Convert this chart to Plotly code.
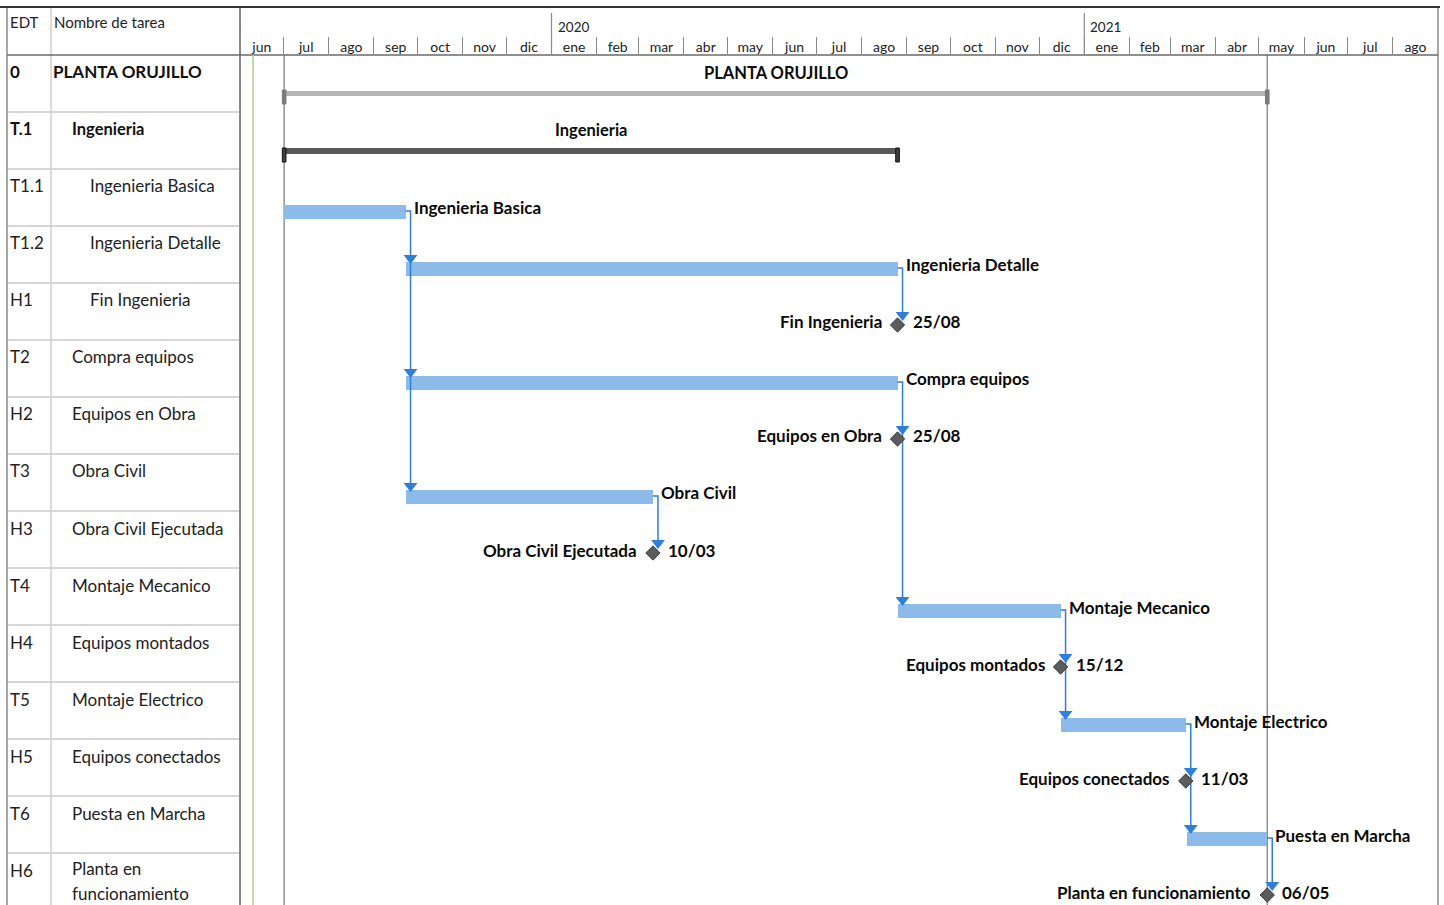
import plotly.graph_objects as go
import pandas as pd

# ---------------- data ----------------
edt = ["0", "T.1", "T1.1", "T1.2", "H1", "T2", "H2", "T3", "H3", "T4", "H4", "T5", "H5", "T6", "H6"]
names = ["PLANTA ORUJILLO", "Ingenieria", "Ingenieria Basica", "Ingenieria Detalle", "Fin Ingenieria",
         "Compra equipos", "Equipos en Obra", "Obra Civil", "Obra Civil Ejecutada", "Montaje Mecanico",
         "Equipos montados", "Montaje Electrico", "Equipos conectados", "Puesta en Marcha",
         "Planta en funcionamiento"]
levels = [0, 1, 2, 2, 2, 1, 1, 1, 1, 1, 1, 1, 1, 1, 1]
kinds = ["project", "summary", "task", "task", "milestone", "task", "milestone", "task", "milestone",
         "task", "milestone", "task", "milestone", "task", "milestone"]
starts = ["2019-07-01 08:00", "2019-07-01 08:00", "2019-07-01 08:00", "2019-09-23 08:00", "2020-08-25 17:00",
          "2019-09-23 08:00", "2020-08-25 17:00", "2019-09-23 08:00", "2020-03-10 17:00", "2020-08-26 08:00",
          "2020-12-15 17:00", "2020-12-16 08:00", "2021-03-11 17:00", "2021-03-12 08:00", "2021-05-06 17:00"]
finishes = ["2021-05-06 17:00", "2020-08-25 17:00", "2019-09-22 17:00", "2020-08-25 17:00", "2020-08-25 17:00",
            "2020-08-25 17:00", "2020-08-25 17:00", "2020-03-10 17:00", "2020-03-10 17:00", "2020-12-15 17:00",
            "2020-12-15 17:00", "2021-03-11 17:00", "2021-03-11 17:00", "2021-05-06 17:00", "2021-05-06 17:00"]
# predecessor -> successor links (row indices)
links = [(2, 3), (2, 5), (2, 7), (3, 4), (5, 6), (5, 9), (7, 8), (9, 10), (9, 11),
         (11, 12), (11, 13), (13, 14)]
status_date = "2019-06-10"
axis_start, axis_end = "2019-06-01", "2021-09-01"
month_abbr = ["ene", "feb", "mar", "abr", "may", "jun", "jul", "ago", "sep", "oct", "nov", "dic"]
year_marks = ["2020-01-01", "2021-01-01"]

# ---------------- layout constants ----------------
W, H = 1444, 905
TBL_L, COL2, TBL_R, CH_R = 7, 51, 240, 1438
TOP, HEAD_B = 7, 55
ROW_H = 57
FONT = "Lato"

n = len(names)
S = pd.to_datetime(starts)
F = pd.to_datetime(finishes)
ax0, ax1 = pd.Timestamp(axis_start), pd.Timestamp(axis_end)
day_px = (CH_R - TBL_R) / ((ax1 - ax0).days)
y_bottom = (H - HEAD_B) / ROW_H - 0.5


def yrow(i, px):
    """y data coordinate of a point px pixels below the top of row i"""
    return i - 0.5 + px / ROW_H


def py(p):
    """paper y of pixel row p"""
    return 1 - p / H


def px_x(p):
    return p / W


def shift_days(px):
    return pd.Timedelta(days=px / day_px)


fig = go.Figure()
shapes = []
ann = []

# ---------------- bars ----------------
task_idx = [i for i in range(n) if kinds[i] == "task"]
fig.add_trace(go.Bar(
    orientation="h",
    base=[S[i] for i in task_idx],
    x=[(F[i] - S[i]).total_seconds() * 1000 for i in task_idx],
    y=[yrow(i, 43) for i in task_idx],
    width=14 / ROW_H,
    marker=dict(color="#8CBBEA", line=dict(width=0)),
    hoverinfo="skip", showlegend=False))

# summary bars
for i in range(n):
    if kinds[i] == "project":
        col, hgt, yc, capc, capl = "#B5B5B5", 5, 38, "#7A7A7A", "#7A7A7A"
    elif kinds[i] == "summary":
        col, hgt, yc, capc, capl = "#595959", 6, 39, "#404040", "#111111"
    else:
        continue
    fig.add_trace(go.Bar(
        orientation="h", base=[S[i]], x=[(F[i] - S[i]).total_seconds() * 1000],
        y=[yrow(i, yc)], width=hgt / ROW_H,
        marker=dict(color=col, line=dict(width=0)), hoverinfo="skip", showlegend=False))
    for d in (S[i], F[i]):
        shapes.append(dict(type="rect", xref="x", yref="y", xsizemode="pixel", xanchor=d,
                           x0=-1.8, x1=1.8, y0=yrow(i, yc - 3), y1=yrow(i, yc + 11),
                           fillcolor=capc, line=dict(color=capl, width=1), layer="above"))

# ---------------- connectors ----------------
preds = {}
for p, s in links:
    preds.setdefault(p, []).append(s)
cx, cy, tx, ty = [], [], [], []
for p, succ in preds.items():
    xc = F[p] + shift_days(5)
    yp = yrow(p, 42)
    last = max(succ)
    cx += [F[p], xc, xc, None]
    cy += [yp, yp, yrow(last, 35), None]
    for s in succ:
        tx.append(xc)
        ty.append(yrow(s, 32))
fig.add_trace(go.Scatter(x=cx, y=cy, mode="lines", line=dict(color="#2F7ED8", width=1.5),
                         hoverinfo="skip", showlegend=False))
fig.add_trace(go.Scatter(x=tx, y=ty, mode="markers",
                         marker=dict(symbol="triangle-down", size=12, color="#2F7ED8"),
                         hoverinfo="skip", showlegend=False))

# ---------------- milestones ----------------
ms_idx = [i for i in range(n) if kinds[i] == "milestone"]
fig.add_trace(go.Scatter(x=[F[i] for i in ms_idx], y=[yrow(i, 42) for i in ms_idx], mode="markers",
                         marker=dict(symbol="diamond", size=11, color="#5C5C5C",
                                     line=dict(color="#3A3A3A", width=1)),
                         hoverinfo="skip", showlegend=False))

# ---------------- bar labels ----------------
bold = dict(family=FONT, size=17, color="#0A0A0A")
for i in range(n):
    if kinds[i] == "task":
        ann.append(dict(x=F[i], y=yrow(i, 39), xref="x", yref="y", text="<b>%s</b>" % names[i],
                        showarrow=False, xanchor="left", yanchor="middle", xshift=6, font=bold))
    elif kinds[i] == "milestone":
        ann.append(dict(x=F[i], y=yrow(i, 39), xref="x", yref="y", text="<b>%s</b>" % names[i],
                        showarrow=False, xanchor="right", yanchor="middle", xshift=-14, font=bold))
        ann.append(dict(x=F[i], y=yrow(i, 39), xref="x", yref="y",
                        text="<b>%s</b>" % F[i].strftime("%d/%m"),
                        showarrow=False, xanchor="left", yanchor="middle", xshift=13, font=bold))
    else:
        mid = S[i] + (F[i] - S[i]) / 2
        ann.append(dict(x=mid, y=yrow(i, 18), xref="x", yref="y", text="<b>%s</b>" % names[i],
                        showarrow=False, xanchor="center", yanchor="middle",
                        font=dict(family=FONT, size=16.5, color="#0A0A0A")))

# ---------------- table ----------------
tcol = "#222222"
ann.append(dict(x=px_x(TBL_L + 1), y=py(22), xref="paper", yref="paper", text="EDT", showarrow=False,
                xanchor="left", yanchor="middle", font=dict(family=FONT, size=15, color=tcol)))
ann.append(dict(x=px_x(COL2 + 1), y=py(22), xref="paper", yref="paper", text="Nombre de tarea",
                showarrow=False, xanchor="left", yanchor="middle", font=dict(family=FONT, size=15, color=tcol)))
indent_px = [COL2 + 0, COL2 + 19, COL2 + 37]
for i in range(n):
    is_sum = kinds[i] in ("project", "summary")
    f = dict(family=FONT, size=17 if kinds[i] != "summary" else 16.5,
             color="#111111" if is_sum else tcol)
    txt_e = "<b>%s</b>" % edt[i] if is_sum else edt[i]
    ann.append(dict(x=px_x(TBL_L + 1), y=yrow(i, 17), xref="paper", yref="y", text=txt_e,
                    showarrow=False, xanchor="left", yanchor="middle", font=f))
    # wrap long names
    name = names[i]
    lines = [name]
    if len(name) > 20:
        cut = name.rfind(" ", 0, 20)
        lines = [name[:cut], name[cut + 1:]]
    y0 = 17 if len(lines) == 1 else 15
    for k, ln in enumerate(lines):
        ann.append(dict(x=px_x(indent_px[levels[i]]), y=yrow(i, y0 + 25 * k), xref="paper", yref="y",
                        text="<b>%s</b>" % ln if is_sum else ln, showarrow=False,
                        xanchor="left", yanchor="middle", font=f))
    # row separator
    shapes.append(dict(type="line", xref="paper", yref="y", x0=px_x(TBL_L), x1=px_x(TBL_R),
                       y0=yrow(i, ROW_H), y1=yrow(i, ROW_H), line=dict(color="#D6D6D6", width=2)))


# grid / border lines
def vline_paper(xp, y0p, y1p, color, width):
    shapes.append(dict(type="line", xref="paper", yref="paper", x0=px_x(xp), x1=px_x(xp),
                       y0=py(y0p), y1=py(y1p), line=dict(color=color, width=width)))


vline_paper(TBL_L, TOP, H, "#8A8A8A", 1.5)
vline_paper(COL2, TOP, H, "#CFCFCF", 1.5)
vline_paper(TBL_R, TOP, H, "#8A8A8A", 2)
vline_paper(CH_R, TOP, H, "#8A8A8A", 1.5)
shapes.append(dict(type="line", xref="paper", yref="paper", x0=0, x1=px_x(CH_R + 2), y0=py(TOP), y1=py(TOP),
                   line=dict(color="#333333", width=2)))
shapes.append(dict(type="line", xref="paper", yref="paper", x0=px_x(TBL_L), x1=px_x(CH_R), y0=py(HEAD_B),
                   y1=py(HEAD_B), line=dict(color="#6A6A6A", width=1.5)))

# year separators and labels
for ym in year_marks:
    shapes.append(dict(type="line", xref="x", yref="paper", x0=ym, x1=ym, y0=py(13), y1=py(HEAD_B),
                       line=dict(color="#8A8A8A", width=1.2)))
    ann.append(dict(x=ym, y=py(27), xref="x", yref="paper", text=ym[:4], showarrow=False,
                    xanchor="left", yanchor="middle", xshift=4, font=dict(family=FONT, size=13.5, color=tcol)))

# status date and project start/finish lines
shapes.append(dict(type="line", xref="x", yref="paper", x0=status_date, x1=status_date,
                   y0=0, y1=py(HEAD_B), line=dict(color="#A9D18E", width=1.5)))
for d in (S[0], F[0]):
    shapes.append(dict(type="line", xref="x", yref="paper", x0=d, x1=d, y0=0, y1=py(HEAD_B),
                       line=dict(color="#909090", width=1.5), layer="below"))

# month axis (labels at mid-month, separators as minor ticks)
month_starts = pd.date_range(ax0, ax1 - pd.Timedelta(days=1), freq="MS")
mids = [m + (m + pd.offsets.MonthBegin(1) - m) / 2 for m in month_starts]
labels = [month_abbr[m.month - 1] for m in month_starts]

fig.update_layout(
    width=W, height=H, autosize=False,
    margin=dict(l=0, r=0, t=0, b=0),
    paper_bgcolor="white", plot_bgcolor="white",
    barmode="overlay", bargap=0,
    shapes=shapes, annotations=ann,
    xaxis=dict(type="date", domain=[TBL_R / W, CH_R / W], range=[ax0, ax1], side="top",
               tickmode="array", tickvals=mids, ticktext=labels, ticks="",
               tickfont=dict(family=FONT, size=14, color=tcol), ticklabelstandoff=-1,
               showgrid=False, zeroline=False, showline=False, fixedrange=True,
               minor=dict(tickmode="array", tickvals=list(month_starts), ticks="outside", ticklen=17,
                          tickcolor="#8A8A8A", tickwidth=1.2, showgrid=False)),
    yaxis=dict(domain=[0, (H - HEAD_B) / H], range=[y_bottom, -0.5], showticklabels=False,
               showgrid=False, zeroline=False, showline=False, ticks="", fixedrange=True),
)

fig.write_html("out.html")
